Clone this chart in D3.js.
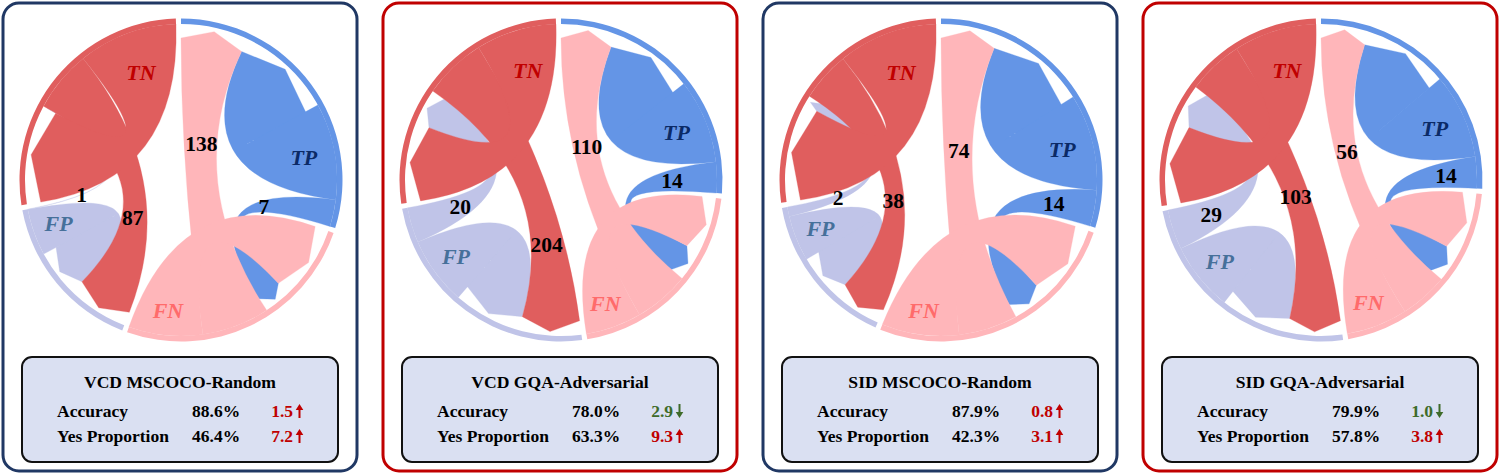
<!DOCTYPE html>
<html>
<head>
<meta charset="utf-8">
<script src="https://cdn.jsdelivr.net/npm/d3@7"></script>
<style>
  body { margin: 0; background: #fff; }
  svg { display: block; }
  text { font-family: "Liberation Serif", "Times New Roman", serif; font-weight: bold; }
</style>
</head>
<body>
<svg id="chart" width="1499" height="476"></svg>
<script>
// groups in drawing order, clockwise from 12 o'clock
const groupNames = ["TP", "FN", "FP", "TN"];

const panelTitles = ["VCD MSCOCO-Random", "VCD GQA-Adversarial", "SID MSCOCO-Random", "SID GQA-Adversarial"];
const accuracy = ["88.6%", "78.0%", "87.9%", "79.9%"];
const accuracyDelta = ["1.5", "2.9", "0.8", "1.0"];
const accuracyUp = [true, false, true, false];
const yesProportion = ["46.4%", "63.3%", "42.3%", "57.8%"];
const yesDelta = ["7.2", "9.3", "3.1", "3.8"];
const yesUp = [true, true, true, true];

// sample flows baseline -> method (one entry per panel)
const tpStay = [1137, 1259, 1129, 1259];
const tpToFn = [7, 14, 14, 14];
const fnToTp = [138, 110, 74, 56];
const fnStay = [218, 117, 283, 171];
const fpStay = [30, 326, 28, 316];
const fpToTn = [1, 20, 2, 29];
const tnToFp = [87, 204, 38, 103];
const tnStay = [1382, 950, 1432, 1052];

// ---- layout / style ----
const panelX = [3, 383, 763, 1143];
const panelW = 354, panelH = 468;
const frameColors = ["#203864", "#C00000", "#203864", "#C00000"];
const cx = 178, cy = 180;
const rIn = 156, rOut = 161.5;

const groupColor = {TP: "#6495E6", FN: "#FFB6BA", FP: "#C0C4E8", TN: "#E05E5E"};
const labelColor = {TP: "#0B2A66", FN: "#FF6B6B", FP: "#46709A", TN: "#C00000"};
const labelRadius = {TP: 125, FN: 131, FP: 130, TN: 115};

// where along each labelled ribbon the count sits (0 = source, 1 = target)
const labelAlong = [
  [0.63, 0.64, 0.30, 0.22],
  [0.60, 0.71, 0.17, 0.20],
  [0.605, 0.57, 0.15, 0.20],
  [0.58, 0.53, 0.11, 0.15]
];

const weight = d3.scaleLog().base(Math.E).domain([1, Math.E]).range([0, 1]);

const chordLayout = d3.chordDirected().padAngle(0.032);
const ribbon = d3.ribbonArrow().sourceRadius(rIn).targetRadius(152).headRadius(10);
const arc = d3.arc().innerRadius(rIn).outerRadius(rOut);

const svg = d3.select("#chart");

function arrowPath(x, base, up) {
  const top = base - 13, bot = base + 1;
  if (up) {
    return `M${x - 1},${bot} L${x - 1},${top + 6} L${x - 3.8},${top + 6} L${x},${top} L${x + 3.8},${top + 6} L${x + 1},${top + 6} L${x + 1},${bot} Z`;
  }
  return `M${x - 1},${top} L${x - 1},${bot - 6} L${x - 3.8},${bot - 6} L${x},${bot} L${x + 3.8},${bot - 6} L${x + 1},${bot - 6} L${x + 1},${top} Z`;
}

panelTitles.forEach((title, p) => {
  const g = svg.append("g").attr("transform", `translate(${panelX[p]},0)`);

  g.append("rect")
    .attr("x", 0).attr("y", 3)
    .attr("width", panelW).attr("height", panelH)
    .attr("rx", 16)
    .attr("fill", "#fff")
    .attr("stroke", frameColors[p])
    .attr("stroke-width", 3);

  const counts = [
    [tpStay[p], tpToFn[p], 0, 0],
    [fnToTp[p], fnStay[p], 0, 0],
    [0, 0, fpStay[p], fpToTn[p]],
    [0, 0, tnToFp[p], tnStay[p]]
  ];
  const matrix = counts.map(row => row.map(v => v > 0 ? Math.max(weight(v), 0.03) : 0));
  const chords = chordLayout(matrix);

  const c = g.append("g").attr("transform", `translate(${cx},${cy})`);

  c.append("g").selectAll("path")
    .data(chords)
    .enter().append("path")
    .attr("d", ribbon)
    .attr("fill", d => groupColor[groupNames[d.source.index]])
    .attr("stroke", d => groupColor[groupNames[d.source.index]])
    .attr("stroke-width", 0.3);

  c.append("g").selectAll("path")
    .data(chords.groups)
    .enter().append("path")
    .attr("d", arc)
    .attr("fill", d => groupColor[groupNames[d.index]]);

  // group names, placed on the outgoing end of each group's self flow
  groupNames.forEach((name, i) => {
    const self = chords.find(d => d.source.index === i && d.target.index === i);
    const a = (self.source.startAngle + self.source.endAngle) / 2;
    const r = labelRadius[name];
    c.append("text")
      .attr("x", r * Math.sin(a))
      .attr("y", -r * Math.cos(a))
      .attr("dy", "0.35em")
      .attr("text-anchor", "middle")
      .attr("font-style", "italic")
      .attr("font-size", 22)
      .attr("fill", labelColor[name])
      .text(name);
  });

  // counts on the changed flows
  const changed = [[1, 0, fnToTp[p]], [3, 2, tnToFp[p]], [0, 1, tpToFn[p]], [2, 3, fpToTn[p]]];
  changed.forEach(([s, t, value], k) => {
    const ch = chords.find(d => d.source.index === s && d.target.index === t);
    const a = (ch.source.startAngle + ch.source.endAngle) / 2;
    const b = (ch.target.startAngle + ch.target.endAngle) / 2;
    const u = labelAlong[p][k];
    const w0 = (1 - u) * (1 - u), w1 = u * u;
    const x = w0 * rIn * Math.sin(a) + w1 * 147 * Math.sin(b);
    const y = -w0 * rIn * Math.cos(a) - w1 * 147 * Math.cos(b);
    c.append("text")
      .attr("x", x).attr("y", y)
      .attr("dy", "0.35em")
      .attr("text-anchor", "middle")
      .attr("font-size", 21.5)
      .attr("fill", "#000")
      .text(value);
  });

  // info box
  g.append("rect")
    .attr("x", 19).attr("y", 357)
    .attr("width", 316).attr("height", 105)
    .attr("rx", 10)
    .attr("fill", "#DAE0F2")
    .attr("stroke", "#111")
    .attr("stroke-width", 2);

  g.append("text")
    .attr("x", 177).attr("y", 388)
    .attr("text-anchor", "middle")
    .attr("font-size", 17.6)
    .attr("fill", "#000")
    .text(title);

  const rows = [
    ["Accuracy", accuracy[p], accuracyDelta[p], accuracyUp[p], 417],
    ["Yes Proportion", yesProportion[p], yesDelta[p], yesUp[p], 442]
  ];
  rows.forEach(([name, value, delta, up, base]) => {
    const col = up ? "#C00000" : "#3E6B2A";
    g.append("text").attr("x", 54).attr("y", base).attr("font-size", 17.5).attr("fill", "#000").text(name);
    g.append("text").attr("x", 189).attr("y", base).attr("font-size", 17.5).attr("fill", "#000").text(value);
    g.append("text").attr("x", 290).attr("y", base).attr("text-anchor", "end").attr("font-size", 17.5).attr("fill", col).text(delta);
    g.append("path").attr("d", arrowPath(296.5, base, up)).attr("fill", col);
  });
});
</script>
</body>
</html>
